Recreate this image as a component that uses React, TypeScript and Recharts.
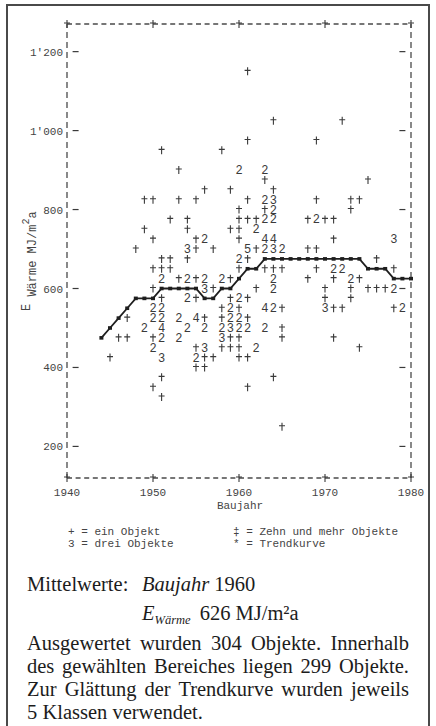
import React from 'react';
import { ScatterChart, Scatter, XAxis, YAxis, ReferenceLine } from 'recharts';

// Baujahr (x) gegen E Wärme in MJ/m2a (y), Zeilendrucker-Plot
const xTicks = [1940, 1950, 1960, 1970, 1980];
const yTicks = [200, 400, 600, 800, 1000, 1200];
const xDomain = [1940, 1980];
const yDomain = [120, 1270];

// "+" = ein Objekt
const ones: [number, number][] = [
  [1961, 1150], [1964, 1025], [1972, 1025], [1961, 975], [1969, 975], [1951, 950], [1958, 950],
  [1953, 900], [1963, 875], [1975, 875], [1956, 850], [1959, 850], [1964, 850],
  [1949, 825], [1950, 825], [1953, 825], [1955, 825], [1961, 825], [1969, 825], [1973, 825], [1974, 825],
  [1960, 800], [1963, 800], [1973, 800],
  [1952, 775], [1954, 775], [1960, 775], [1961, 775], [1962, 775], [1968, 775], [1970, 775], [1971, 775],
  [1949, 750], [1954, 750], [1959, 750], [1960, 750],
  [1950, 725], [1955, 725], [1960, 725], [1971, 725],
  [1948, 700], [1955, 700], [1957, 700], [1962, 700], [1968, 700], [1969, 700],
  [1951, 675], [1952, 675], [1954, 675], [1961, 675], [1976, 675],
  [1950, 650], [1951, 650], [1952, 650], [1960, 650], [1963, 650], [1964, 650], [1965, 650], [1969, 650], [1978, 650],
  [1953, 625], [1955, 625], [1959, 625], [1968, 625], [1971, 625], [1974, 625],
  [1950, 600], [1957, 600], [1962, 600], [1970, 600], [1973, 600], [1975, 600], [1976, 600], [1977, 600],
  [1951, 575], [1955, 575], [1959, 575], [1961, 575], [1970, 575], [1973, 575],
  [1958, 550], [1960, 550], [1965, 550], [1971, 550], [1972, 550], [1978, 550],
  [1947, 525], [1956, 525], [1958, 525], [1961, 525],
  [1965, 500],
  [1946, 475], [1947, 475], [1950, 475], [1959, 475], [1960, 475], [1965, 475], [1971, 475],
  [1955, 450], [1958, 450], [1959, 450], [1960, 450], [1974, 450],
  [1945, 425], [1956, 425], [1957, 425], [1960, 425], [1961, 425],
  [1955, 400], [1956, 400], [1951, 375], [1964, 375], [1950, 350], [1961, 350], [1951, 325], [1965, 250],
];

const twos: [number, number][] = [
  [1960, 900], [1963, 900], [1963, 825], [1964, 800], [1963, 775], [1964, 775], [1969, 775],
  [1962, 750], [1956, 725], [1963, 700], [1965, 700], [1960, 675], [1971, 650], [1972, 650],
  [1951, 625], [1954, 625], [1956, 625], [1958, 625], [1964, 625], [1973, 625],
  [1964, 600], [1978, 600], [1954, 575], [1960, 575],
  [1950, 550], [1951, 550], [1959, 550], [1964, 550], [1979, 550],
  [1950, 525], [1951, 525], [1953, 525], [1959, 525], [1960, 525],
  [1949, 500], [1954, 500], [1956, 500], [1958, 500], [1960, 500], [1961, 500], [1963, 500],
  [1951, 475], [1953, 475], [1950, 450], [1962, 450], [1955, 425],
];

const threes: [number, number][] = [
  [1964, 825], [1978, 725], [1954, 700], [1964, 700], [1956, 600], [1970, 550],
  [1959, 500], [1958, 475], [1956, 450], [1951, 425],
];

const fours: [number, number][] = [
  [1963, 725], [1964, 725], [1963, 550], [1955, 525], [1951, 500],
];

const fives: [number, number][] = [[1961, 700]];

// Trendkurve (*), geglättet über 5 Klassen
const trendYears = [
  1944, 1945, 1946, 1947, 1948, 1949, 1950, 1951, 1952, 1953, 1954, 1955, 1956, 1957, 1958, 1959,
  1960, 1961, 1962, 1963, 1964, 1965, 1966, 1967, 1968, 1969, 1970, 1971, 1972, 1973, 1974,
  1975, 1976, 1977, 1978, 1979, 1980,
];
const trendValues = [
  475, 500, 525, 550, 575, 575, 575, 600, 600, 600, 600, 600, 575, 575, 600, 600,
  625, 650, 650, 675, 675, 675, 675, 675, 675, 675, 675, 675, 675, 675, 675,
  650, 650, 650, 625, 625, 625,
];

const MONO = "'Liberation Mono', 'DejaVu Sans Mono', monospace";
const SERIF = "'Liberation Serif', 'DejaVu Serif', serif";
const INK = '#3a3a3a';
const FRAME = '#4a4a4a';

const toPts = (arr: [number, number][]) => arr.map(([x, y]) => ({ x, y }));
const trendData = trendYears.map((x, i) => ({ x, y: trendValues[i] }));
const frameMarks = xTicks.flatMap((x) => [{ x, y: yDomain[0] }, { x, y: yDomain[1] }]);
const tickDashes = yTicks.flatMap((y) => [{ x: xDomain[0] + 1, y }, { x: xDomain[1] - 1, y }]);

const plusShape = (p: any) => (
  <path
    d={`M${p.cx},${p.cy - 4}V${p.cy + 4}M${p.cx - 3},${p.cy - 1}H${p.cx + 3}`}
    stroke={INK}
    strokeWidth={1.1}
    fill="none"
  />
);

const dashShape = (p: any) => (
  <path d={`M${p.cx - 3},${p.cy}H${p.cx + 3}`} stroke={INK} strokeWidth={1.2} />
);

const digitShape = (ch: string) => (p: any) => (
  <text x={p.cx} y={p.cy + 4} textAnchor="middle" fontFamily={MONO} fontSize={12} fill={INK}>
    {ch}
  </text>
);

const trendDot = (p: any) => <rect x={p.cx - 2} y={p.cy - 1.8} width={4} height={3.6} fill="#1e1e1e" />;

const fmtY = (v: number) =>
  v >= 1000 ? `${Math.floor(v / 1000)}'${String(v % 1000).padStart(3, '0')}` : String(v);

const XTick = (p: any) => (
  <text x={p.x} y={p.y + 10} textAnchor="middle" fontFamily={MONO} fontSize={11} fill="#444">
    {p.payload.value}
  </text>
);

const YTick = (p: any) => (
  <text x={p.x + 4} y={p.y + 4} textAnchor="end" fontFamily={MONO} fontSize={11} fill="#444">
    {fmtY(p.payload.value)}
  </text>
);

const YLabel = (p: any) => {
  const vb = p.viewBox || { x: 7, y: 24, width: 60, height: 454 };
  const bx = vb.x + 29;
  const by = vb.y + 287;
  return (
    <text transform={`translate(${bx},${by}) rotate(-90)`} fontFamily={MONO} fontSize={12} fill="#444">
      <tspan dy={-6}>E</tspan>
      <tspan dy={6}> Wärme MJ/m</tspan>
      <tspan dy={-7} fontSize={10}>2</tspan>
      <tspan dy={7}>a</tspan>
    </text>
  );
};

const mono: React.CSSProperties = {
  position: 'absolute',
  fontFamily: MONO,
  fontSize: 11,
  color: '#444',
  whiteSpace: 'pre',
  lineHeight: '12px',
};

const serif: React.CSSProperties = {
  position: 'absolute',
  fontFamily: SERIF,
  fontSize: 20.5,
  lineHeight: '24px',
  color: '#1c1c1c',
  whiteSpace: 'nowrap',
};

const serifLine: React.CSSProperties = {
  ...serif,
  left: 27,
  width: 382,
  textAlign: 'justify',
  textAlignLast: 'justify',
};

export default function App() {
  return (
    <div
      style={{
        position: 'absolute',
        left: 0,
        top: 0,
        width: 436,
        height: 726,
        overflow: 'hidden',
        background: '#fff',
      }}
    >
      <div
        style={{
          position: 'absolute',
          left: 6,
          top: 4,
          width: 424,
          height: 760,
          border: '2px solid #4a4a4a',
          boxSizing: 'border-box',
        }}
      />
      <div style={{ position: 'absolute', left: 0, top: 0 }}>
        <ScatterChart width={436} height={520} margin={{ top: 24, right: 25, bottom: 12, left: 7 }}>
          <XAxis
            dataKey="x"
            type="number"
            domain={xDomain}
            ticks={xTicks}
            height={30}
            axisLine={false}
            tickLine={false}
            tick={<XTick />}
          />
          <YAxis
            dataKey="y"
            type="number"
            domain={yDomain}
            ticks={yTicks}
            width={60}
            axisLine={false}
            tickLine={false}
            tick={<YTick />}
            label={YLabel}
          />
          <ReferenceLine y={yDomain[1]} stroke={FRAME} strokeWidth={1.3} strokeDasharray="5 3.6" />
          <ReferenceLine y={yDomain[0]} stroke={FRAME} strokeWidth={1.3} strokeDasharray="5 3.6" />
          <ReferenceLine x={xDomain[0]} stroke={FRAME} strokeWidth={1.3} strokeDasharray="6 4" />
          <ReferenceLine x={xDomain[1]} stroke={FRAME} strokeWidth={1.3} strokeDasharray="6 4" />
          <Scatter data={frameMarks} shape={plusShape} isAnimationActive={false} />
          <Scatter data={tickDashes} shape={dashShape} isAnimationActive={false} />
          <Scatter data={toPts(ones)} shape={plusShape} isAnimationActive={false} />
          <Scatter data={toPts(twos)} shape={digitShape('2')} isAnimationActive={false} />
          <Scatter data={toPts(threes)} shape={digitShape('3')} isAnimationActive={false} />
          <Scatter data={toPts(fours)} shape={digitShape('4')} isAnimationActive={false} />
          <Scatter data={toPts(fives)} shape={digitShape('5')} isAnimationActive={false} />
          <Scatter
            data={trendData}
            line={{ stroke: '#1e1e1e', strokeWidth: 1.8 }}
            shape={trendDot}
            isAnimationActive={false}
          />
        </ScatterChart>
      </div>

      <div style={{ ...mono, left: 0, width: 436, top: 500, textAlign: 'center', paddingLeft: 44, boxSizing: 'border-box' }}>
        Baujahr
      </div>
      <div style={{ ...mono, left: 68, top: 526 }}>{'+ = ein Objekt\n3 = drei Objekte'}</div>
      <div style={{ ...mono, left: 233, top: 526 }}>{'\u2021 = Zehn und mehr Objekte\n* = Trendkurve'}</div>

      <div style={{ ...serif, left: 27, top: 572 }}>Mittelwerte:</div>
      <div style={{ ...serif, left: 142, top: 572 }}>
        <i>Baujahr</i> 1960
      </div>
      <div style={{ ...serif, left: 142, top: 601 }}>
        <i>E</i>
        <i style={{ fontSize: 12.5, position: 'relative', top: 4 }}>Wärme</i>
        <span style={{ marginLeft: 9 }}>626 MJ/m²a</span>
      </div>

      <div style={{ ...serifLine, top: 631 }}>Ausgewertet wurden 304 Objekte. Innerhalb</div>
      <div style={{ ...serifLine, top: 654 }}>des gewählten Bereiches liegen 299 Objekte.</div>
      <div style={{ ...serifLine, top: 677 }}>Zur Glättung der Trendkurve wurden jeweils</div>
      <div style={{ ...serifLine, top: 700, textAlignLast: 'left' }}>5 Klassen verwendet.</div>
    </div>
  );
}
